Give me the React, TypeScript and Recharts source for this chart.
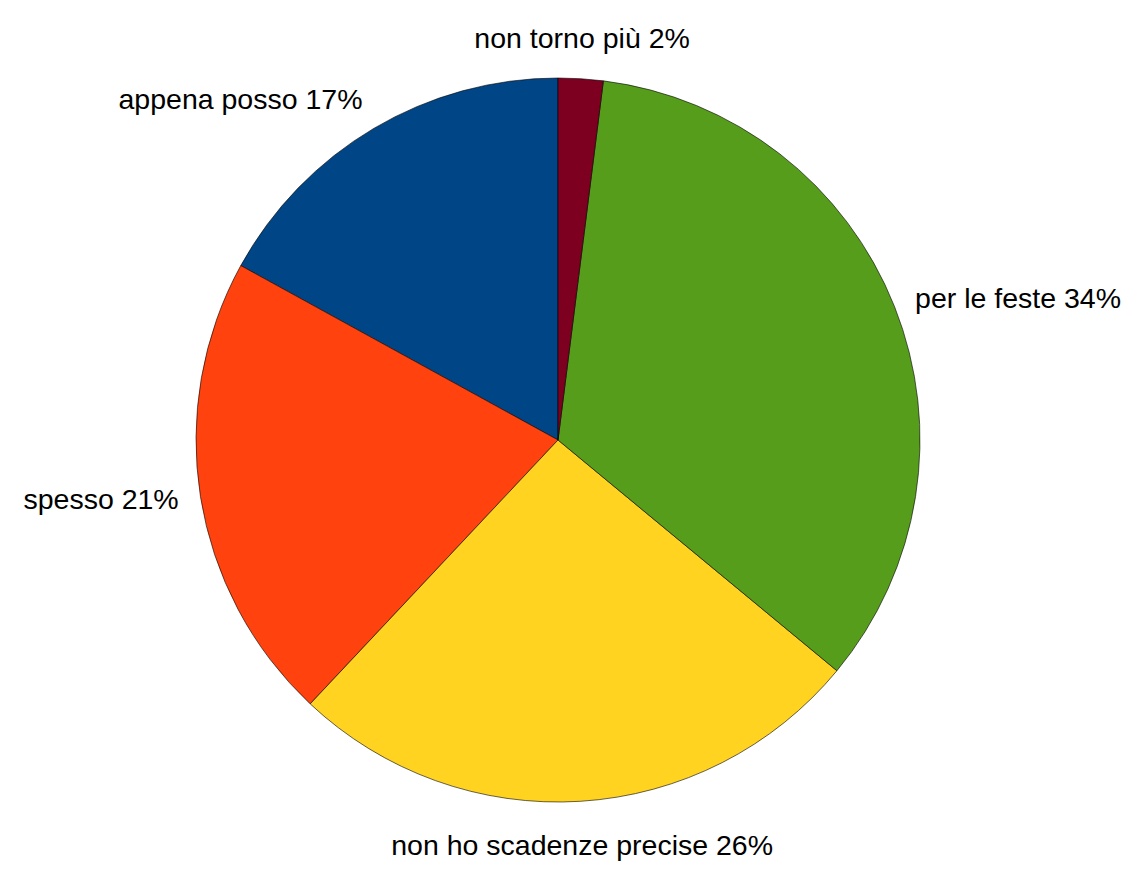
import { PieChart, Pie, Cell } from 'recharts'

const LABELS = ['appena posso', 'spesso', 'non ho scadenze precise', 'per le feste', 'non torno più']
const VALUES = [17, 21, 26, 34, 2]
const COLORS = ['#004586', '#ff420e', '#ffd320', '#579d1c', '#7e0021']

const data = LABELS.map((name, i) => ({ name, value: VALUES[i] }))

const RAD = Math.PI / 180

// labels sit just outside the rim, aligned away from the pie
function renderLabel(props: any) {
  const { cx, cy, midAngle, outerRadius, name, value } = props
  const r = outerRadius + 22
  const c = Math.cos(-midAngle * RAD)
  const s = Math.sin(-midAngle * RAD)
  const x = cx + r * c
  const y = cy + r * s
  const anchor = c > 0.2 ? 'start' : c < -0.2 ? 'end' : 'middle'
  let dy = 9
  if (s < -0.9) dy = -9
  else if (s < -0.5) dy = 0
  else if (s > 0.9) dy = 32
  return (
    <text x={x} y={y + dy} textAnchor={anchor} fill="#000" fontSize={28.5}
          fontFamily="'Liberation Sans', Arial, sans-serif">
      {`${name} ${value}%`}
    </text>
  )
}

export default function App() {
  return (
    <div style={{ position: 'absolute', left: 0, top: 0, background: '#fff' }}>
      <PieChart width={1136} height={893} margin={{ top: 0, right: 0, bottom: 0, left: 0 }}>
        <Pie data={data} dataKey="value" nameKey="name" cx={558} cy={440}
             outerRadius={362} startAngle={90} endAngle={450}
             stroke="#000" strokeWidth={0.6} label={renderLabel} labelLine={false}
             isAnimationActive={false}>
          {data.map((d, i) => <Cell key={d.name} fill={COLORS[i]} />)}
        </Pie>
      </PieChart>
    </div>
  )
}
